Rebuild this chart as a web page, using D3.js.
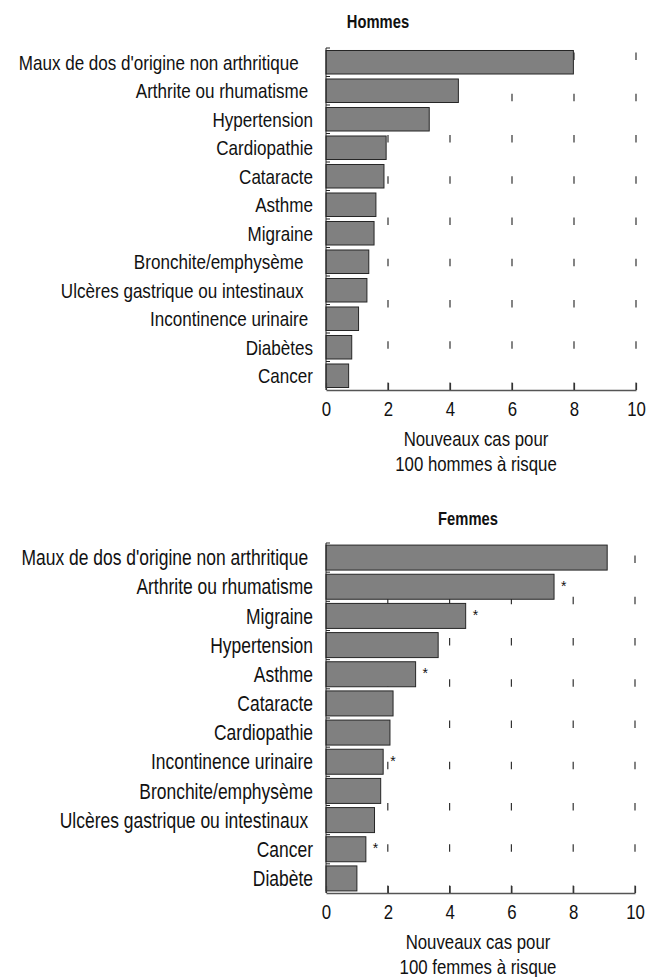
<!DOCTYPE html>
<html>
<head>
<meta charset="utf-8">
<title>Nouveaux cas</title>
<script src="https://d3js.org/d3.v7.min.js"></script>
<style>
  body { margin: 0; background: #fff; }
  svg { display: block; }
  text { fill: #111; }
  .lbl { white-space: pre; }
</style>
</head>
<body>
<svg id="chart" width="656" height="977"></svg>
<script>
// --- data ---
const menCats = ["Maux de dos d'origine non arthritique   ", "Arthrite ou rhumatisme ", "Hypertension",
  "Cardiopathie", "Cataracte", "Asthme", "Migraine", "Bronchite/emphysème  ",
  "Ulcères gastrique ou intestinaux  ", "Incontinence urinaire ", "Diabètes", "Cancer"];
const menVals = [7.98, 4.27, 3.33, 1.94, 1.87, 1.61, 1.55, 1.38, 1.32, 1.05, 0.83, 0.73];

const womenCats = ["Maux de dos d'origine non arthritique ", "Arthrite ou rhumatisme", "Migraine",
  "Hypertension", "Asthme", "Cataracte", "Cardiopathie", "Incontinence urinaire",
  "Bronchite/emphysème", "Ulcères gastrique ou intestinaux ", "Cancer", "Diabète"];
const womenVals = [9.1, 7.38, 4.52, 3.63, 2.9, 2.17, 2.07, 1.85, 1.77, 1.57, 1.29, 1.0];
const womenStars = ["Arthrite ou rhumatisme", "Migraine", "Asthme", "Incontinence urinaire", "Cancer"];

const xTicks = [0, 2, 4, 6, 8, 10];

const svg = d3.select("#chart");

// narrow face if installed, otherwise squeeze the regular one horizontally
let FONT = "'Liberation Sans Narrow', 'Arial Narrow'";
let sx = 1;
(function () {
  const t1 = svg.append("text").style("font-family", FONT + ", 'Liberation Sans'").style("font-size", "20px").text("Hypertension");
  const t2 = svg.append("text").style("font-family", "'Liberation Sans'").style("font-size", "20px").text("Hypertension");
  const w1 = t1.node().getComputedTextLength(), w2 = t2.node().getComputedTextLength();
  t1.remove(); t2.remove();
  if (Math.abs(w1 - w2) < 0.5) { FONT = "'Liberation Sans'"; sx = 0.82; }
  else FONT = FONT + ", 'Liberation Sans'";
})();

function put(sel, x, y) {
  return sel.attr("transform", `translate(${x},${y}) scale(${sx},1)`);
}

function drawPanel(o) {
  const fs = o.fs;
  const x = d3.scaleLinear().domain([0, 10]).range([326, o.right]);
  const y = d3.scaleBand().domain(o.cats).range([o.top, o.bottom])
    .paddingInner(o.pad).paddingOuter(o.pad / 2);
  const g = svg.append("g").style("font-family", FONT);

  put(g.append("text"), o.titleX, o.titleY)
    .attr("text-anchor", "middle")
    .style("font-weight", "bold").style("font-size", "18px")
    .text(o.title);

  // dashed vertical grid, drawn from the axis upward
  g.selectAll(".grid").data(xTicks.slice(1)).join("line")
    .attr("x1", d => x(d)).attr("x2", d => x(d))
    .attr("y1", o.bottom).attr("y2", o.top)
    .attr("stroke", "#333").attr("stroke-width", 1.2)
    .attr("stroke-dasharray", "7.5,33.75");

  // bars
  g.selectAll(".bar").data(o.cats).join("rect")
    .attr("x", x(0)).attr("y", d => y(d))
    .attr("width", (d, i) => x(o.vals[i]) - x(0))
    .attr("height", y.bandwidth())
    .attr("fill", "#808080").attr("stroke", "#262626").attr("stroke-width", 1);

  // significance stars
  if (o.stars) {
    g.selectAll(".star").data(o.cats.filter(c => o.stars.includes(c))).join("text")
      .attr("x", d => x(o.vals[o.cats.indexOf(d)]) + 7)
      .attr("y", d => y(d) + y.bandwidth() / 2 + 4)
      .style("font-size", "14px")
      .text("*");
  }

  // category labels
  g.selectAll(".lbl").data(o.cats).join("text")
    .attr("class", "lbl")
    .attr("transform", d => `translate(313,${y(d) + y.bandwidth() / 2}) scale(${sx},1)`)
    .attr("dy", "0.36em").attr("text-anchor", "end")
    .style("font-size", fs + "px")
    .text(d => d);

  // left axis line with small ticks between categories
  g.append("line").attr("x1", x(0)).attr("x2", x(0))
    .attr("y1", o.top).attr("y2", o.bottom).attr("stroke", "#222");
  const step = y.step();
  g.selectAll(".ytick").data(d3.range(o.cats.length)).join("line")
    .attr("x1", x(0)).attr("x2", x(0) + 4)
    .attr("y1", i => o.top + i * step).attr("y2", i => o.top + i * step)
    .attr("stroke", "#222");

  // bottom axis
  const ax = g.append("g").attr("transform", `translate(0,${o.bottom})`)
    .call(d3.axisBottom(x).tickValues(xTicks).tickSizeInner(-7).tickSizeOuter(0).tickPadding(11));
  ax.select(".domain").attr("stroke", "#555").attr("stroke-width", 1.6);
  ax.selectAll(".tick line").attr("stroke", "#333").attr("stroke-width", 1.2);
  ax.selectAll(".tick text")
    .attr("transform", `scale(${sx},1)`)
    .style("font-family", FONT).style("font-size", "20.5px").attr("fill", "#111");

  o.xlab.forEach((t, i) => {
    put(g.append("text"), o.xlabX, o.bottom + 56 + i * 24.5)
      .attr("text-anchor", "middle").style("font-size", "20.5px").text(t);
  });
}

drawPanel({
  cats: menCats, vals: menVals, title: "Hommes", titleX: 378, titleY: 28,
  top: 48, bottom: 390, pad: 0.175, right: 636, fs: 20.8,
  xlab: ["Nouveaux cas pour", "100 hommes à risque"], xlabX: 476
});

drawPanel({
  cats: womenCats, vals: womenVals, stars: womenStars, title: "Femmes", titleX: 468, titleY: 525,
  top: 543, bottom: 893, pad: 0.143, right: 635, fs: 21.3,
  xlab: ["Nouveaux cas pour", "100 femmes à risque"], xlabX: 478
});
</script>
</body>
</html>
